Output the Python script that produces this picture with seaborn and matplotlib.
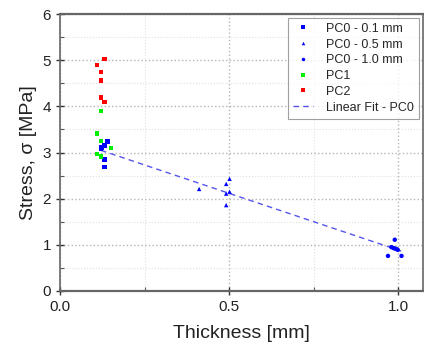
import numpy as np
import pandas as pd
import matplotlib
matplotlib.use("Agg")
import matplotlib.pyplot as plt
import seaborn as sns
from matplotlib.ticker import MultipleLocator

# thickness [mm] and stress [MPa]
pc0_01_x = [0.140, 0.131, 0.123, 0.121, 0.131, 0.131]
pc0_01_y = [3.24, 3.15, 3.11, 3.07, 2.85, 2.69]
pc0_05_x = [0.411, 0.501, 0.491, 0.501, 0.491, 0.491]
pc0_05_y = [2.21, 2.43, 2.32, 2.15, 2.11, 1.86]
pc0_10_x = [0.989, 0.979, 0.985, 0.989, 0.994, 0.998, 0.969, 1.009]
pc0_10_y = [1.11, 0.95, 0.93, 0.92, 0.91, 0.89, 0.76, 0.76]
pc1_x = [0.121, 0.110, 0.121, 0.151, 0.110, 0.121]
pc1_y = [3.90, 3.41, 3.25, 3.10, 2.97, 2.91]
pc2_x = [0.131, 0.110, 0.121, 0.121, 0.121, 0.131]
pc2_y = [5.02, 4.90, 4.74, 4.56, 4.19, 4.09]

groups = ["PC0 - 0.1 mm", "PC0 - 0.5 mm", "PC0 - 1.0 mm", "PC1", "PC2"]
xs = [pc0_01_x, pc0_05_x, pc0_10_x, pc1_x, pc2_x]
ys = [pc0_01_y, pc0_05_y, pc0_10_y, pc1_y, pc2_y]
colors = {"PC0 - 0.1 mm": "#0000ff", "PC0 - 0.5 mm": "#0000ff",
          "PC0 - 1.0 mm": "#0000ff", "PC1": "#00ee00", "PC2": "#ff0000"}
markers = {"PC0 - 0.1 mm": "s", "PC0 - 0.5 mm": "^", "PC0 - 1.0 mm": "o",
           "PC1": "s", "PC2": "s"}

df = pd.concat([pd.DataFrame({"Thickness": x, "Stress": y, "group": g})
                for g, x, y in zip(groups, xs, ys)], ignore_index=True)

# linear fit through all PC0 points
pc0 = df[df["group"].str.startswith("PC0")]
slope, icpt = np.polyfit(pc0["Thickness"], pc0["Stress"], 1)
fit_x = np.array([pc0["Thickness"].min(), pc0["Thickness"].max()])
fit = pd.DataFrame({"Thickness": fit_x, "Stress": slope * fit_x + icpt})

sns.set_style("ticks")
plt.rcParams["font.family"] = ["Liberation Sans", "DejaVu Sans"]

fig = plt.figure(figsize=(4.24, 3.51), dpi=100)
ax = fig.add_axes([0.1415, 0.171, 0.855, 0.789])

sns.scatterplot(data=df, x="Thickness", y="Stress", hue="group", style="group",
                palette=colors, markers=markers, s=10, linewidth=0, ax=ax,
                zorder=3)
sns.lineplot(data=fit, x="Thickness", y="Stress", ax=ax, color="#5555ee",
             linestyle=(0, (4, 3)), linewidth=1, label="Linear Fit - PC0",
             zorder=2)

ax.set_xlim(0, 1.071)
ax.set_ylim(0, 6)
ax.xaxis.set_major_locator(MultipleLocator(0.5))
ax.xaxis.set_minor_locator(MultipleLocator(0.25))
ax.yaxis.set_major_locator(MultipleLocator(1))
ax.yaxis.set_minor_locator(MultipleLocator(0.5))
ax.set_xticklabels([f"{v:.1f}" for v in ax.get_xticks()])
ax.grid(True, which="major", linestyle=":", color="#b5b5b5", linewidth=1)
ax.grid(True, which="minor", linestyle=":", color="#e0e0e0", linewidth=0.8)
ax.set_axisbelow(True)
ax.tick_params(which="major", direction="inout", length=6, width=1,
               labelsize=11, colors="#333333", labelcolor="#222222")
ax.tick_params(which="minor", direction="in", length=3, width=0.8,
               colors="#555555")
for s in ax.spines.values():
    s.set_color("#666666")
    s.set_linewidth(1.2)
ax.spines["bottom"].set_linewidth(1.6)
ax.spines["top"].set_linewidth(1.6)

ax.set_xlabel("Thickness [mm]", fontsize=14, color="#222222", labelpad=8)
ax.set_ylabel("Stress, σ [MPa]", fontsize=14, color="#222222", labelpad=4)

leg = ax.legend(loc="upper right", fontsize=9, frameon=True, fancybox=False,
                edgecolor="#888888", borderaxespad=0.3, handlelength=1.6,
                handletextpad=1.0, labelspacing=0.3, markerscale=0.8)
leg.get_frame().set_linewidth(0.8)

fig.savefig("out.png", dpi=100)
